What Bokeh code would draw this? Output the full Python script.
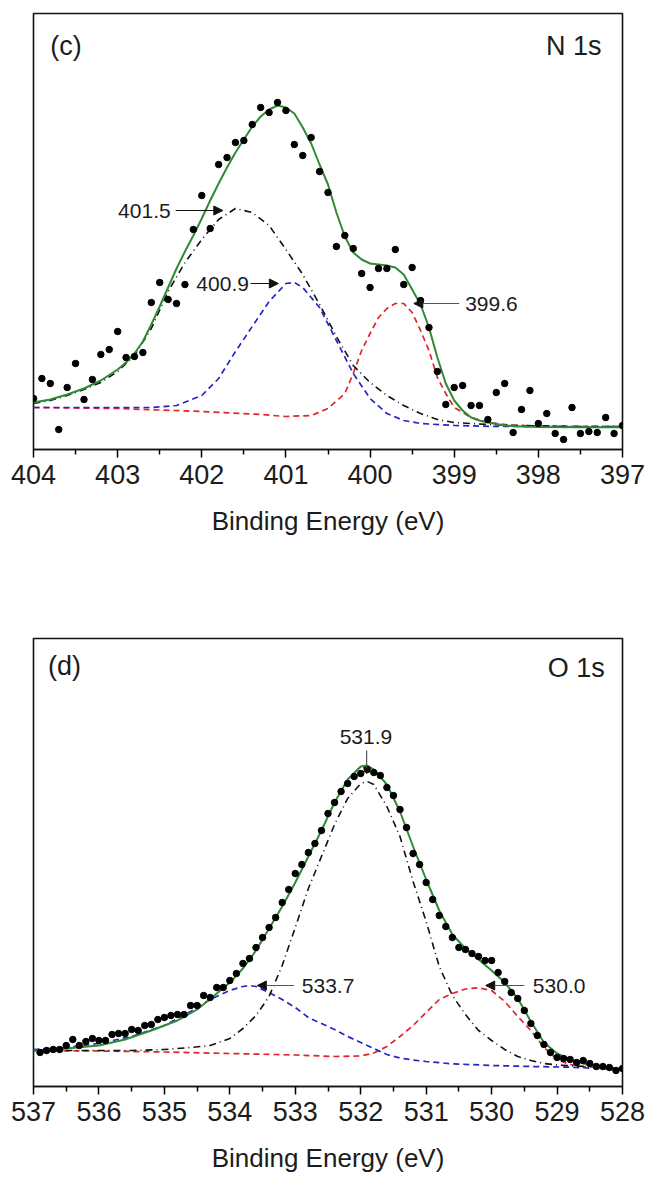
from bokeh.plotting import figure
from bokeh.models import Range1d, FixedTicker, Label, Arrow, NormalHead
from bokeh.layouts import column
from bokeh.embed import file_html
from bokeh.resources import INLINE

# ---------------- N 1s (panel c) ----------------
n1s_be = [404.0, 403.9, 403.8, 403.7, 403.6, 403.5, 403.4, 403.3, 403.2, 403.1,
          403.0, 402.9, 402.8, 402.7, 402.6, 402.5, 402.4, 402.3, 402.2, 402.1,
          402.0, 401.9, 401.8, 401.7, 401.6, 401.5, 401.4, 401.3, 401.2, 401.1,
          401.0, 400.9, 400.8, 400.7, 400.6, 400.5, 400.4, 400.3, 400.2, 400.1,
          400.0, 399.9, 399.8, 399.7, 399.6, 399.5, 399.4, 399.3, 399.2, 399.1,
          399.0, 398.9, 398.8, 398.7, 398.6, 398.5, 398.4, 398.3, 398.2, 398.1,
          398.0, 397.9, 397.8, 397.7, 397.6, 397.5, 397.4, 397.3, 397.2, 397.1, 397.0]
n1s_counts = [51, 71, 66, 20, 62, 86, 50, 70, 95, 100,
              118, 92, 93, 97, 147, 167, 150, 146, 165, 220,
              254, 221, 285, 292, 307, 309, 325, 342, 337, 347,
              339, 305, 294, 312, 278, 257, 203, 214, 201, 176,
              162, 181, 181, 200, 165, 182, 149, 122, 78, 45,
              62, 64, 44, 44, 30, 57, 66, 17, 40, 59,
              26, 36, 16, 10, 42, 16, 18, 17, 32, 16, 24]

n1s_fit_be = [404.0, 403.8, 403.6, 403.4, 403.2, 403.0, 402.9, 402.8, 402.7, 402.6,
              402.5, 402.4, 402.3, 402.2, 402.1, 402.0, 401.9, 401.8, 401.7, 401.6,
              401.5, 401.4, 401.3, 401.2, 401.1, 401.0, 400.9, 400.8, 400.7, 400.6,
              400.5, 400.4, 400.3, 400.2, 400.1, 400.0, 399.9, 399.8, 399.7, 399.6,
              399.5, 399.4, 399.3, 399.2, 399.1, 399.0, 398.9, 398.8, 398.7, 398.6,
              398.4, 398.2, 398.0, 397.5, 397.0]
n1s_fit = [47, 50, 55, 61, 69, 80, 87, 96, 108, 125,
           143, 162, 181, 198, 214, 231, 249, 266, 282, 297,
           310, 323, 333, 340, 344, 342, 336, 322, 306, 285,
           265, 237, 213, 197, 190, 186, 185, 184, 182, 175,
           160, 145, 122, 92, 66, 49, 39, 32, 29, 27,
           24, 23, 22.5, 22.3, 22.3]

n1s_p1_be = [404.0, 403.8, 403.6, 403.4, 403.2, 403.0, 402.8, 402.6, 402.4, 402.2,
             402.0, 401.8, 401.6, 401.4, 401.2, 401.0, 400.8, 400.6, 400.4, 400.2,
             400.0, 399.8, 399.6, 399.4, 399.2, 399.0, 398.6, 398.2, 397.6, 397.0]
n1s_p1 = [46, 49, 54, 60, 67, 78, 94, 121, 158, 187,
          210, 230, 241, 237, 224, 200, 175, 145, 113, 84,
          67, 54, 44, 36, 30, 27, 25, 24, 23, 23]

n1s_p2_be = [404.0, 403.0, 402.6, 402.3, 402.0, 401.8, 401.6, 401.4, 401.2, 401.0,
             400.9, 400.8, 400.6, 400.4, 400.2, 400.0, 399.8, 399.6, 399.4, 399.0,
             398.5, 397.0]
n1s_p2 = [42, 42, 42, 44, 54, 71, 98, 123, 148, 166,
          167, 162, 142, 109, 76, 51, 36, 29, 26, 24,
          23, 23]

n1s_p3_be = [404.0, 403.0, 402.0, 401.3, 401.0, 400.7, 400.5, 400.3, 400.2, 400.1,
             400.0, 399.9, 399.8, 399.7, 399.6, 399.5, 399.4, 399.3, 399.2, 399.1,
             399.0, 398.8, 398.6, 398.3, 397.5, 397.0]
n1s_p3 = [42, 41, 38, 35, 33, 34, 41, 56, 76, 99,
          116, 132, 141, 146, 146, 137, 119, 99, 72, 56,
          42, 32, 27, 24, 23, 23]

n1s_ticks = [404, 403, 402, 401, 400, 399, 398, 397]
n1s_minor = [403.5, 402.5, 401.5, 400.5, 399.5, 398.5, 397.5]

# ---------------- O 1s (panel d) ----------------
o1s_be = [536.9, 536.8, 536.7, 536.6, 536.5, 536.4, 536.3, 536.2, 536.1, 536.0,
          535.9, 535.8, 535.7, 535.6, 535.5, 535.4, 535.3, 535.2, 535.1, 535.0,
          534.9, 534.8, 534.7, 534.6, 534.5, 534.4, 534.3, 534.2, 534.1, 534.0,
          533.9, 533.8, 533.7, 533.6, 533.5, 533.4, 533.3, 533.2, 533.1, 533.0,
          532.9, 532.8, 532.7, 532.6, 532.5, 532.4, 532.3, 532.2, 532.1, 532.0,
          531.9, 531.8, 531.7, 531.6, 531.5, 531.4, 531.3, 531.2, 531.1, 531.0,
          530.9, 530.8, 530.7, 530.6, 530.5, 530.4, 530.3, 530.2, 530.1, 530.0,
          529.9, 529.8, 529.7, 529.6, 529.5, 529.4, 529.3, 529.2, 529.1, 529.0,
          528.9, 528.8, 528.7, 528.6, 528.5, 528.4, 528.3, 528.2, 528.1, 528.0]
o1s_counts = [34, 36, 37, 37, 41, 47, 41, 45, 48, 46,
              46, 52, 53, 53, 57, 56, 61, 62, 67, 69,
              71, 72, 72, 81, 81, 91, 89, 99, 99, 106,
              113, 123, 128, 139, 149, 159, 169, 184, 197, 213,
              222, 234, 243, 256, 273, 284, 295, 303, 310, 313,
              317, 314, 311, 299, 291, 277, 259, 233, 222, 204,
              187, 171, 160, 149, 139, 137, 133, 130, 126, 126,
              114, 105, 94, 88, 76, 63, 51, 42, 34, 29,
              28, 27, 24, 26, 23, 20, 20, 19, 16, 18]

o1s_fit_be = [537.0, 536.5, 536.0, 535.6, 535.2, 534.8, 534.5, 534.2, 534.0, 533.8,
              533.6, 533.4, 533.2, 533.0, 532.8, 532.6, 532.4, 532.2, 532.0, 531.9,
              531.8, 531.6, 531.4, 531.2, 531.0, 530.8, 530.6, 530.4, 530.2, 530.0,
              529.8, 529.6, 529.4, 529.2, 529.0, 528.8, 528.6, 528.4, 528.2, 528.0]
o1s_fit = [36, 38, 41, 47, 56, 66, 77, 93, 104, 118,
           136, 158, 180, 204, 230, 256, 284, 307, 320, 321,
           317, 302, 275, 240, 207, 176, 152, 138, 127, 116,
           104, 88, 65, 44, 33, 27, 23, 20.5, 19, 17.7]

o1s_p1_be = [537.0, 536.0, 535.5, 535.0, 534.6, 534.3, 534.0, 533.8, 533.6, 533.4,
             533.2, 533.0, 532.8, 532.6, 532.4, 532.2, 532.0, 531.9, 531.8, 531.6,
             531.4, 531.2, 531.0, 530.8, 530.6, 530.4, 530.2, 530.0, 529.8, 529.6,
             529.4, 529.2, 529.0, 528.6, 528.0]
o1s_p1 = [36, 36, 36, 37, 39, 41, 48, 58, 71, 90,
          121, 159, 198, 230, 262, 288, 303, 305, 302, 280,
          250, 205, 165, 120, 91, 72, 56, 46, 37, 30,
          26, 23, 21.5, 20, 17]

o1s_p2_be = [537.0, 536.5, 536.0, 535.5, 535.0, 534.6, 534.3, 534.0, 533.8, 533.7,
             533.6, 533.4, 533.2, 533.0, 532.8, 532.6, 532.4, 532.2, 532.0, 531.8,
             531.6, 531.4, 531.2, 531.0, 530.6, 530.0, 529.4, 528.8, 528.0]
o1s_p2 = [37, 39, 43, 50, 61, 75, 87, 96, 100, 101,
          100, 94, 87, 79, 69, 63, 57, 50, 44, 38,
          32, 28.5, 26.5, 25, 22.7, 21, 20, 19.3, 17]

o1s_p3_be = [537.0, 536.0, 535.0, 534.0, 533.0, 532.4, 532.0, 531.8, 531.6, 531.4,
             531.2, 531.0, 530.8, 530.6, 530.4, 530.2, 530.0, 529.8, 529.6, 529.4,
             529.2, 529.0, 528.8, 528.6, 528.0]
o1s_p3 = [36, 35.5, 34.5, 33, 31.5, 30, 30.5, 33.5, 40, 50,
          61, 74, 87, 93, 97.5, 98.7, 96, 85, 70, 56,
          39, 27, 22, 20, 17]

o1s_ticks = [537, 536, 535, 534, 533, 532, 531, 530, 529, 528]
o1s_minor = [536.5, 535.5, 534.5, 533.5, 532.5, 531.5, 530.5, 529.5, 528.5]

FONT = "Liberation Sans"
GREEN = "#2f8a35"
RED = "#e0252e"
BLUE = "#2626c8"
TXT = "#1c1c1c"


def make_panel(xr, yr, ticks, minor, w, h, bl, br, bt, bb):
    p = figure(width=w, height=h, x_range=Range1d(*xr), y_range=Range1d(*yr),
               output_backend="svg", toolbar_location=None,
               min_border_left=bl, min_border_right=br,
               min_border_top=bt, min_border_bottom=bb)
    p.xgrid.visible = False
    p.ygrid.visible = False
    p.yaxis.visible = False
    p.outline_line_color = "#111111"
    p.outline_line_width = 1.6
    p.outline_line_alpha = 1.0
    p.background_fill_color = "white"
    p.border_fill_color = "white"
    ax = p.xaxis[0]
    ax.ticker = FixedTicker(ticks=ticks, minor_ticks=minor)
    ax.major_tick_out = 8
    ax.major_tick_in = 0
    ax.minor_tick_out = 5
    ax.minor_tick_in = 0
    ax.axis_line_width = 1.6
    ax.axis_line_color = "#111111"
    ax.major_tick_line_width = 1.5
    ax.minor_tick_line_width = 1.5
    ax.major_label_text_font = FONT
    ax.major_label_text_font_size = "27px"
    ax.major_label_text_color = TXT
    ax.major_label_standoff = 7
    ax.axis_label = "Binding Energy (eV)"
    ax.axis_label_text_font = FONT
    ax.axis_label_text_font_size = "26px"
    ax.axis_label_text_font_style = "normal"
    ax.axis_label_text_color = TXT
    ax.axis_label_standoff = 19
    return p


def add_components(p, be, counts, fit_be, fit, p1_be, p1, p2_be, p2, p3_be, p3):
    p.line(p3_be, p3, line_color=RED, line_width=1.7, line_dash="6 4")
    p.line(p2_be, p2, line_color=BLUE, line_width=1.7, line_dash="6 4")
    p.line(p1_be, p1, line_color="#111111", line_width=1.6, line_dash="7 4 1 4")
    p.line(fit_be, fit, line_color=GREEN, line_width=2)
    p.scatter(be, counts, size=6.5, fill_color="black", line_color="black")


def label(p, x, y, text, align="left", size="21px"):
    p.add_layout(Label(x=x, y=y, text=text, text_align=align, text_baseline="middle",
                       text_font=FONT, text_font_size=size, text_color=TXT))


def arrow(p, x0, y0, x1, y1, color="#111111", size=9):
    p.add_layout(Arrow(end=NormalHead(size=size, fill_color="#111111", line_color="#111111",
                                      line_width=1),
                       x_start=x0, y_start=y0, x_end=x1, y_end=y1,
                       line_color=color, line_width=1.2))


# panel (c)
pc = make_panel((404, 397), (0, 436), n1s_ticks, n1s_minor, 648, 580, 33, 26, 13, 131)
add_components(pc, n1s_be, n1s_counts, n1s_fit_be, n1s_fit,
               n1s_p1_be, n1s_p1, n1s_p2_be, n1s_p2, n1s_p3_be, n1s_p3)
label(pc, 403.80, 404, "(c)", size="27px")
label(pc, 397.25, 404, "N 1s", align="right", size="27px")
label(pc, 402.37, 239, "401.5", align="right")
arrow(pc, 402.31, 239, 401.75, 239)
label(pc, 401.44, 166, "400.9", align="right")
arrow(pc, 401.42, 166, 401.09, 166)
label(pc, 398.87, 146, "399.6")
arrow(pc, 398.94, 146, 399.48, 146, color="#555555")

# panel (d)
pd_ = make_panel((537, 528), (0, 448), o1s_ticks, o1s_minor, 648, 598, 27, 19, 58, 92)
add_components(pd_, o1s_be, o1s_counts, o1s_fit_be, o1s_fit,
               o1s_p1_be, o1s_p1, o1s_p2_be, o1s_p2, o1s_p3_be, o1s_p3)
label(pd_, 536.78, 421, "(d)", size="27px")
label(pd_, 528.27, 419, "O 1s", align="right", size="27px")
label(pd_, 531.92, 350, "531.9", align="center")
arrow(pd_, 531.91, 336, 531.91, 313, color="#555555", size=6)
label(pd_, 532.90, 101, "533.7")
arrow(pd_, 533.02, 101, 533.58, 101, color="#555555")
label(pd_, 529.37, 101, "530.0")
arrow(pd_, 529.50, 101, 530.09, 101, color="#555555")

layout = column(pc, pd_, spacing=0)
open("out.html", "w").write(file_html(layout, INLINE))
